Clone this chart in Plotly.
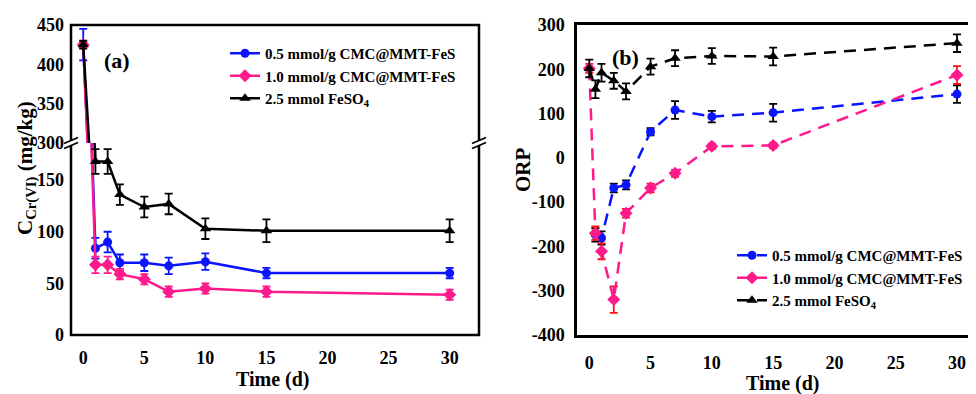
import plotly.graph_objects as go

# page is drawn with an 8px body margin, so the figure is sized to fill the rest
OX, OY = 8, 8
W, H = 976 - OX, 394 - OY

def px(x):
    return (x - OX) / W

def py(y):
    return 1 - (y - OY) / H

# ---------------- data: panel (a) ----------------
time_a = [0, 1, 2, 3, 5, 7, 10, 15, 30]
cr_05 = [425, 84, 90, 70, 70, 67, 71, 60, 60]
cr_05_err = [20, 10, 10, 8, 8, 8, 8, 5, 5]
cr_10 = [425, 68, 68, 59, 54, 42, 45, 42, 39]
cr_10_err = [3, 8, 8, 5, 5, 5, 5, 5, 5]
cr_fe = [425, 168, 168, 136, 124, 127, 103, 101, 101]
cr_fe_err = [5, 12, 12, 10, 10, 10, 10, 11, 11]

# ---------------- data: panel (b) ----------------
time_b05 = [0.5, 1, 2, 3, 5, 7, 10, 15, 30]
orp_05 = [-174, -181, -68, -61, 59, 108, 93, 102, 144]
orp_05_err = [15, 15, 10, 10, 8, 20, 13, 20, 20]
time_b10 = [0, 0.5, 1, 2, 3, 5, 7, 10, 15, 30]
orp_10 = [202, -170, -211, -320, -125, -68, -35, 26, 28, 187]
orp_10_err = [10, 15, 18, 30, 10, 10, 8, 6, 6, 20]
time_bfe = [0, 0.5, 1, 2, 3, 5, 7, 10, 15, 30]
orp_fe = [202, 155, 192, 174, 150, 206, 225, 230, 229, 259]
orp_fe_err = [20, 20, 20, 18, 18, 18, 18, 18, 20, 20]

# tick labels
x_ticks = [0, 5, 10, 15, 20, 25, 30]
ya_low_ticks = [0, 50, 100, 150]
ya_up_ticks = [300, 350, 400, 450]
yb_ticks = [-400, -300, -200, -100, 0, 100, 200, 300]

names = ["0.5 mmol/g CMC@MMT-FeS", "1.0 mmol/g CMC@MMT-FeS", "2.5 mmol FeSO<sub>4</sub>"]
BLUE = "#0a14ff"
PINK = "#ff1a8c"
BLACK = "#000000"
RED = "#ff1010"
FONT = "Liberation Serif"

fig = go.Figure()

series_a = [
    (cr_05, cr_05_err, BLUE, "circle", 9, BLUE),
    (cr_10, cr_10_err, PINK, "diamond", 10, PINK),
    (cr_fe, cr_fe_err, BLACK, "triangle-up", 10, BLACK),
]
for i, (vals, err, col, sym, ms, ecol) in enumerate(series_a):
    for yax in ["y", "y2"]:
        fig.add_trace(go.Scatter(
            x=time_a, y=vals, xaxis="x", yaxis=yax,
            mode="lines+markers", name=names[i],
            line=dict(color=col, width=2.5),
            marker=dict(color=col, symbol=sym, size=ms),
            error_y=dict(type="data", array=err, color=ecol, thickness=1.8, width=4),
            showlegend=(yax == "y"), legend="legend",
        ))

series_b = [
    (time_b05, orp_05, orp_05_err, BLUE, "circle", 9, BLACK),
    (time_b10, orp_10, orp_10_err, PINK, "diamond", 10, RED),
    (time_bfe, orp_fe, orp_fe_err, BLACK, "triangle-up", 10, BLACK),
]
for i, (xs, vals, err, col, sym, ms, ecol) in enumerate(series_b):
    fig.add_trace(go.Scatter(
        x=xs, y=vals, xaxis="x2", yaxis="y3",
        mode="lines+markers", name=names[i],
        line=dict(color=col, width=2.5, dash="12px,8px"),
        marker=dict(color=col, symbol=sym, size=ms),
        error_y=dict(type="data", array=err, color=ecol, thickness=1.8, width=4),
        legend="legend2",
    ))

tickfont = dict(family=FONT, size=18, color="black")

def bold(vals):
    return ["<b>%s</b>" % v for v in vals]

ybreak = 143
fig.update_layout(
    width=W, height=H,
    font=dict(family=FONT, color="black"),
    margin=dict(l=0, r=0, t=0, b=0, autoexpand=False),
    plot_bgcolor="white", paper_bgcolor="white",
    xaxis=dict(domain=[px(71), px(479)], range=[-1, 32.4], anchor="y",
               tickvals=x_ticks, ticktext=bold(x_ticks), showgrid=False, zeroline=False,
               showline=False, ticks="", tickfont=tickfont, automargin=False,
               ticklabelstandoff=10),
    yaxis=dict(domain=[py(335), py(ybreak)], range=[0, 186], anchor="x",
               tickvals=ya_low_ticks, ticktext=bold(ya_low_ticks), showgrid=False, zeroline=False,
               showline=False, ticks="", tickfont=tickfont, automargin=False,
               ticklabelstandoff=6),
    yaxis2=dict(domain=[py(ybreak), py(25)], range=[300, 450], anchor="x",
                tickvals=ya_up_ticks, ticktext=bold(ya_up_ticks), showgrid=False, zeroline=False,
                showline=False, ticks="", tickfont=tickfont, automargin=False,
                ticklabelstandoff=6),
    xaxis2=dict(domain=[px(577), 1.0], range=[-1, 31.55], anchor="y3",
                tickvals=x_ticks, ticktext=bold(x_ticks), showgrid=False, zeroline=False,
                showline=True, mirror=True, linecolor="black", linewidth=2.5,
                ticks="", tickfont=tickfont, automargin=False, ticklabelstandoff=10),
    yaxis3=dict(domain=[py(335), py(25)], range=[-400, 300], anchor="x2",
                tickvals=yb_ticks, ticktext=bold(yb_ticks), showgrid=False,
                zeroline=False, showline=True, linecolor="black", linewidth=2.5,
                ticks="", tickfont=tickfont, automargin=False, ticklabelstandoff=6),
    legend=dict(x=px(225), y=py(37), xanchor="left", yanchor="top",
                bgcolor="rgba(0,0,0,0)", borderwidth=0, tracegroupgap=0,
                font=dict(family=FONT, size=15, color="black", weight="bold"),
                itemwidth=30),
    legend2=dict(x=px(732), y=py(239), xanchor="left", yanchor="top",
                 bgcolor="rgba(0,0,0,0)", borderwidth=0, tracegroupgap=0,
                 font=dict(family=FONT, size=15, color="black", weight="bold"),
                 itemwidth=30),
)

shapes = [
    dict(type="rect", xref="paper", yref="paper", x0=px(71), x1=px(479), y0=py(335), y1=py(25),
         line=dict(color="black", width=2.5), layer="above"),
]
# axis break marks
for xb in [71, 479]:
    shapes.append(dict(type="rect", xref="paper", yref="paper", x0=px(xb - 3), x1=px(xb + 3),
                       y0=py(ybreak + 2), y1=py(ybreak - 2), fillcolor="white",
                       line=dict(width=0), layer="above"))
    for dy in [-2.5, 2.5]:
        shapes.append(dict(type="line", xref="paper", yref="paper",
                           x0=px(xb - 7), x1=px(xb + 7), y0=py(ybreak + dy + 3), y1=py(ybreak + dy - 3),
                           line=dict(color="black", width=1.8), layer="above"))
fig.update_layout(shapes=shapes)

def ann(text, x, y, size, angle=0):
    return dict(text=text, x=px(x), y=py(y), xref="paper", yref="paper", showarrow=False,
                xanchor="center", yanchor="middle", textangle=angle,
                font=dict(family=FONT, size=size, color="black"))

annotations = [
    ann("<b>(a)</b>", 117, 60, 22),
    ann("<b>(b)</b>", 625, 57, 22),
    ann("<b>C<sub>Cr(VI)</sub> (mg/kg)</b>", 27, 168, 21, -90),
    ann("<b>ORP</b>", 523, 170, 21, -90),
    ann("<b>Time (d)</b>", 273, 379, 20),
    ann("<b>Time (d)</b>", 783, 383, 20),
]
fig.update_layout(annotations=annotations)

fig.write_html("out.html")
